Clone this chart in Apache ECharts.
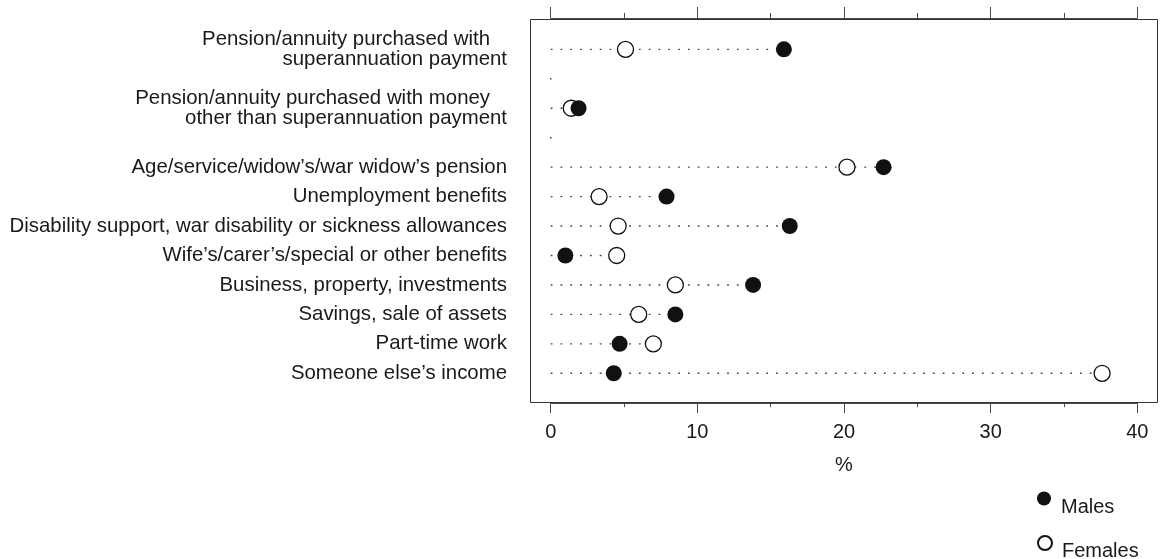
<!DOCTYPE html>
<html>
<head>
<meta charset="utf-8">
<title>Sources of income by sex</title>
<script src="https://cdn.jsdelivr.net/npm/echarts@6/dist/echarts.min.js"></script>
<style>
  html, body { margin: 0; padding: 0; background: #fff; }
  #chart { width: 1160px; height: 559px; }
</style>
</head>
<body>
<div id="chart"></div>
<script>
// Rows from top to bottom; blank rows are spacer lines with no values.
const categories = [
  'Pension/annuity purchased with   \nsuperannuation payment',
  ' ',
  'Pension/annuity purchased with money   \nother than superannuation payment',
  '  ',
  'Age/service/widow\u2019s/war widow\u2019s pension',
  'Unemployment benefits',
  'Disability support, war disability or sickness allowances',
  'Wife\u2019s/carer\u2019s/special or other benefits',
  'Business, property, investments',
  'Savings, sale of assets',
  'Part-time work',
  'Someone else\u2019s income'
];

// Percentages
const males   = [15.9, null, 1.9, null, 22.7, 7.9, 16.3, 1.0, 13.8, 8.5, 4.7, 4.3];
const females = [5.1,  null, 1.4, null, 20.2, 3.3, 4.6,  4.5, 8.5,  6.0, 7.0, 37.6];

const xMin = 0;
const xMax = 40;
const xStep = 10;

const FONT = '"Liberation Sans", Arial, Helvetica, sans-serif';
const INK = '#1a1a1a';
const AXIS = '#4a4a4a';

// Dotted guide runs from 0 to the larger of the two values in each row
const guides = categories.map((c, i) => [Math.max(males[i] || 0, females[i] || 0), i]);
const toPoints = arr => arr.map((v, i) => (v == null ? null : [v, i])).filter(p => p);

const chart = echarts.init(document.getElementById('chart'), null, { renderer: 'canvas' });

// Legend text sits a little below its symbol
const legendText = {
  fontSize: 20, color: INK, fontFamily: FONT, lineHeight: 17, padding: [0, 0, 0, 5]
};

chart.setOption({
  animation: false,
  backgroundColor: '#fff',
  textStyle: { fontFamily: FONT },
  grid: [{ left: 550.7, width: 586.6, top: 34.6, height: 353.4 }],
  graphic: [{
    type: 'rect',
    silent: true,
    shape: { x: 530.5, y: 19.5, width: 627, height: 383 },
    style: { fill: 'none', stroke: '#333', lineWidth: 1 },
    z: 1
  }],
  xAxis: [{
    type: 'value', gridIndex: 0, position: 'bottom', offset: 15.1,
    min: xMin, max: xMax, interval: xStep,
    axisLine: { show: true, lineStyle: { color: AXIS, width: 1 } },
    axisTick: { show: true, inside: false, length: 10, lineStyle: { color: AXIS } },
    minorTick: { show: true, splitNumber: 2, length: 4, lineStyle: { color: AXIS } },
    splitLine: { show: false },
    minorSplitLine: { show: false },
    axisLabel: { fontSize: 20, color: INK, margin: 19, fontFamily: FONT },
    name: '%', nameLocation: 'middle', nameGap: 52,
    nameTextStyle: { fontSize: 20, color: INK, fontFamily: FONT }
  }, {
    type: 'value', gridIndex: 0, position: 'top', offset: 16.6,
    min: xMin, max: xMax, interval: xStep,
    axisLine: { show: true, lineStyle: { color: AXIS, width: 1 } },
    axisTick: { show: true, inside: false, length: 11, lineStyle: { color: AXIS } },
    minorTick: { show: true, splitNumber: 2, length: 5, lineStyle: { color: AXIS } },
    splitLine: { show: false },
    axisLabel: { show: false }
  }],
  yAxis: [{
    type: 'category', gridIndex: 0, inverse: true,
    data: categories,
    axisLine: { show: false },
    axisTick: { show: false },
    splitLine: { show: false },
    axisLabel: {
      fontSize: 20.4, color: INK, margin: 43.7, lineHeight: 19.5,
      padding: [5, 0, 0, 0],
      fontFamily: FONT, align: 'right', interval: 0
    }
  }],
  legend: [{
    data: ['Males'], orient: 'vertical', left: 1037, top: 480, padding: 0,
    itemWidth: 14, itemHeight: 14, selectedMode: false,
    formatter: '\n{name}',
    textStyle: legendText
  }, {
    data: ['Females'], orient: 'vertical', left: 1037, top: 524.5, padding: 0,
    itemWidth: 14, itemHeight: 14, selectedMode: false,
    formatter: '\n{name}',
    textStyle: legendText
  }],
  series: [{
    name: 'guides', type: 'custom', xAxisIndex: 0, yAxisIndex: 0,
    silent: true, z: 2,
    data: guides,
    renderItem: function (params, api) {
      const end = api.value(0);
      const row = api.value(1);
      const p0 = api.coord([0, row]);
      const p1 = api.coord([end, row]);
      if (p1[0] - p0[0] < 1) {
        return {
          type: 'rect',
          shape: { x: p0[0] - 0.7, y: p0[1] - 0.7, width: 1.5, height: 1.5 },
          style: { fill: '#444' }
        };
      }
      return {
        type: 'line',
        shape: { x1: p0[0], y1: p0[1], x2: p1[0], y2: p1[1] },
        style: { stroke: '#444', lineWidth: 1.4, lineDash: [1.8, 8] }
      };
    }
  }, {
    name: 'Females', type: 'scatter', xAxisIndex: 0, yAxisIndex: 0, z: 3,
    symbol: 'circle', symbolSize: 16,
    itemStyle: { color: '#fff', borderColor: '#111', borderWidth: 1.3, opacity: 1 },
    emphasis: { disabled: true },
    data: toPoints(females)
  }, {
    name: 'Males', type: 'scatter', xAxisIndex: 0, yAxisIndex: 0, z: 4,
    symbol: 'circle', symbolSize: 16,
    itemStyle: { color: '#111', opacity: 1 },
    emphasis: { disabled: true },
    data: toPoints(males)
  }]
});
</script>
</body>
</html>
